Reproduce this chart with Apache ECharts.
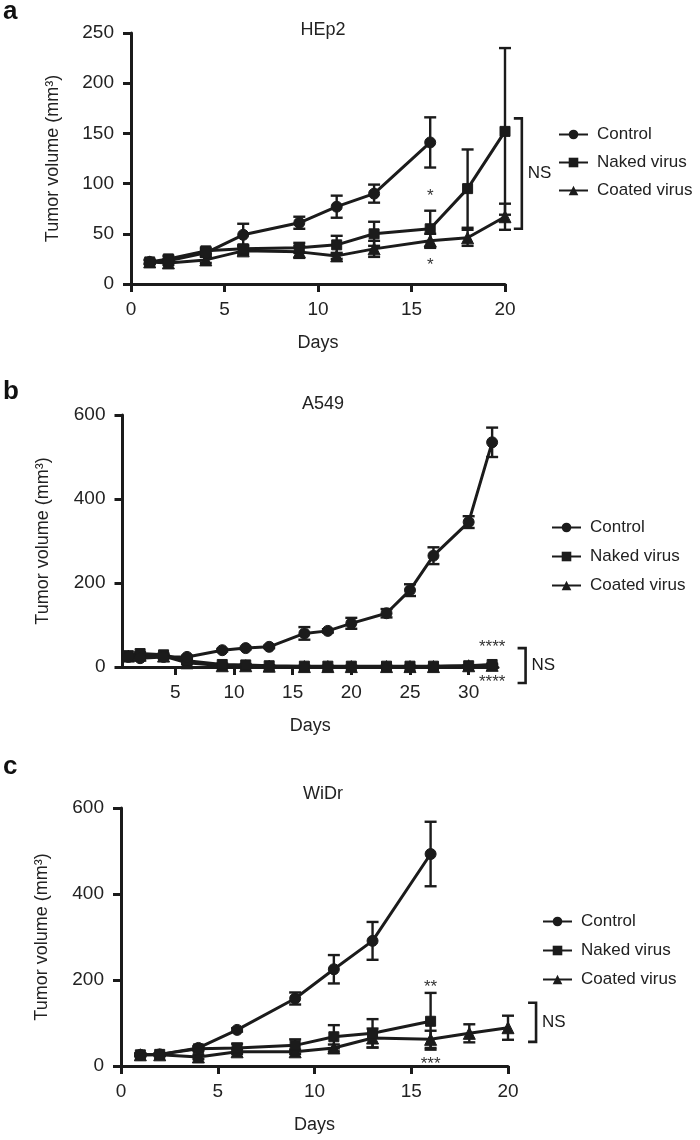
<!DOCTYPE html>
<html>
<head>
<meta charset="utf-8">
<script src="https://cdn.jsdelivr.net/npm/echarts@6/dist/echarts.min.js"></script>
<style>
html,body{margin:0;padding:0;background:#fff;}
#c{width:700px;height:1140px;}
</style>
</head>
<body>
<div id="c"></div>
<script>
// ---------- DATA ----------
const seriesNames = ['Control', 'Naked virus', 'Coated virus'];
const panelTitles = ['HEp2', 'A549', 'WiDr'];
const panelLetters = ['a', 'b', 'c'];
const yAxisTitle = 'Tumor volume (mm³)';
const xAxisTitle = 'Days';

// Panel a (HEp2)
const daysA_control = [1, 2, 4, 6, 9, 11, 13, 16];
const controlA = [22, 23, 31, 49, 61, 77, 90, 141];
const controlA_err = [2, 2, 3, 11, 6, 11, 9, 25];
const daysA_naked = [1, 2, 4, 6, 9, 11, 13, 16, 18, 20];
const nakedA = [22, 25, 33, 35, 36, 39, 50, 55, 95, 152];
const nakedA_err = [2, 3, 3, 4, 5, 9, 12, 18, 39, 83];
const daysA_coated = [1, 2, 4, 6, 9, 11, 13, 16, 18, 20];
const coatedA = [22, 21, 24, 33, 32, 28, 35, 43, 46, 67];
const coatedA_err = [2, 2, 3, 4, 6, 3, 8, 7, 8, 13];
const xTicksA = [0, 5, 10, 15, 20];

// Panel b (A549)
const daysB = [1, 2, 4, 6, 9, 11, 13, 16, 18, 20, 23, 25, 27, 30, 32];
const controlB = [24, 21, 24, 24, 40, 45, 48, 80, 86, 104, 128, 183, 265, 345, 535];
const controlB_err = [3, 3, 3, 3, 3, 3, 3, 15, 4, 13, 10, 14, 20, 14, 35];
const nakedB = [27, 32, 29, 15, 6, 5, 3, 2, 2, 2, 2, 2, 2, 3, 6];
const nakedB_err = [3, 3, 3, 3, 2, 2, 1, 1, 1, 1, 1, 1, 1, 1, 2];
const coatedB = [26, 28, 26, 10, 3, 3, 2, 1, 1, 1, 1, 1, 1, 3, 4];
const coatedB_err = [3, 3, 3, 3, 1, 1, 1, 1, 1, 1, 1, 1, 1, 1, 2];
const xTicksB = [5, 10, 15, 20, 25, 30];

// Panel c (WiDr)
const daysC_control = [1, 2, 4, 6, 9, 11, 13, 16];
const controlC = [26, 27, 42, 84, 157, 225, 291, 493];
const controlC_err = [3, 3, 4, 4, 14, 33, 44, 75];
const daysC_naked = [1, 2, 4, 6, 9, 11, 13, 16];
const nakedC = [26, 27, 40, 42, 48, 68, 76, 104];
const nakedC_err = [3, 3, 5, 10, 14, 27, 33, 66];
const daysC_coated = [1, 2, 4, 6, 9, 11, 13, 16, 18, 20];
const coatedC = [26, 26, 21, 33, 33, 42, 65, 62, 76, 89];
const coatedC_err = [3, 3, 5, 5, 5, 8, 22, 20, 21, 28];
const xTicksC = [0, 5, 10, 15, 20];

// Significance annotations: [day, value], label
const starsA = [[16, 87], [16, 19]];
const starsA_text = ['*', '*'];
const starsB = [[32, 48], [32, -37]];
const starsB_text = ['****', '****'];
const starsC = [[16, 183], [16, 4]];
const starsC_text = ['**', '***'];
// NS brackets: [day, top value, bottom value]
const bracketA = [[20.9, 165, 55]];
const bracketB = [[34.85, 45, -38]];
const bracketC = [[21.45, 147, 56]];
const bracketLabel = 'NS';

// ---------- BUILD ----------
const INK = '#1b1b1b';
const FONT = '"Liberation Sans", Arial, Helvetica, sans-serif';
const symbols = ['circle', 'rect', 'triangle'];
const symSizes = [11, 10, 12];

function pairs(xs, ys) { return xs.map((x, i) => [x, ys[i]]); }
function errs(xs, ys, es) { return xs.map((x, i) => [x, ys[i] - es[i], ys[i] + es[i]]); }

function errSeries(data, gi) {
  return {
    type: 'custom', xAxisIndex: gi, yAxisIndex: gi, clip: false, z: 3,
    silent: true,
    renderItem: function (params, api) {
      const x = api.value(0), lo = api.value(1), hi = api.value(2);
      const p1 = api.coord([x, hi]), p2 = api.coord([x, lo]);
      const w = 6;
      const st = { stroke: INK, lineWidth: 2.4 };
      return { type: 'group', children: [
        { type: 'line', shape: { x1: p1[0], y1: p1[1], x2: p2[0], y2: p2[1] }, style: st },
        { type: 'line', shape: { x1: p1[0] - w, y1: p1[1], x2: p1[0] + w, y2: p1[1] }, style: st },
        { type: 'line', shape: { x1: p2[0] - w, y1: p2[1], x2: p2[0] + w, y2: p2[1] }, style: st }
      ]};
    },
    encode: { x: 0, y: [1, 2] },
    data: data
  };
}

function lineSeries(name, k, data, gi) {
  return {
    name: name, type: 'line', xAxisIndex: gi, yAxisIndex: gi,
    symbol: symbols[k], symbolSize: symSizes[k], showAllSymbol: true,
    lineStyle: { color: INK, width: 3 },
    itemStyle: { color: INK, borderColor: INK },
    emphasis: { disabled: true },
    z: 4, clip: false, animation: false,
    data: data
  };
}

function starSeries(data, texts, gi) {
  return {
    type: 'custom', xAxisIndex: gi, yAxisIndex: gi, clip: false, silent: true, z: 5,
    renderItem: function (params, api) {
      const p = api.coord([api.value(0), api.value(1)]);
      return { type: 'text', style: { text: texts[params.dataIndex], x: p[0], y: p[1],
        fill: '#333', font: '17px ' + FONT, align: 'center', verticalAlign: 'middle' } };
    },
    data: data
  };
}

function bracketSeries(data, gi) {
  return {
    type: 'custom', xAxisIndex: gi, yAxisIndex: gi, clip: false, silent: true, z: 5,
    renderItem: function (params, api) {
      const x = api.value(0);
      const pt = api.coord([x, api.value(1)]), pb = api.coord([x, api.value(2)]);
      const t = 8;
      return { type: 'group', children: [
        { type: 'polyline', shape: { points: [[pt[0] - t, pt[1]], [pt[0], pt[1]], [pb[0], pb[1]], [pb[0] - t, pb[1]]] },
          style: { stroke: INK, lineWidth: 2.6, fill: null } },
        { type: 'text', style: { text: bracketLabel, x: pt[0] + 6, y: (pt[1] + pb[1]) / 2,
          fill: INK, font: '17px ' + FONT, align: 'left', verticalAlign: 'middle' } }
      ]};
    },
    data: data
  };
}

const grids = [
  { left: 131, top: 33, width: 374, height: 251 },
  { left: 122.5, top: 415, width: 375.5, height: 252 },
  { left: 121, top: 808, width: 387, height: 258 }
];

const axisLineStyle = { show: true, lineStyle: { color: INK, width: 3 } };
const axisTickStyle = { show: true, inside: false, length: 8, lineStyle: { color: INK, width: 3 } };
const axisLabelStyle = { color: '#222', fontSize: 19, fontFamily: FONT, margin: 17 };

function xAxis(gi, min, max, ticks, interval) {
  const ax = {
    type: 'value', gridIndex: gi, min: min, max: max,
    axisLine: Object.assign({}, axisLineStyle, { onZero: false }),
    axisTick: Object.assign({}, axisTickStyle),
    axisLabel: Object.assign({}, axisLabelStyle, { margin: 16 }),
    splitLine: { show: false },
    name: xAxisTitle, nameLocation: 'middle', nameGap: 50,
    nameTextStyle: { color: '#222', fontSize: 18, fontFamily: FONT }
  };
  if (interval) { ax.interval = interval; }
  else {
    ax.axisTick.customValues = ticks;
    ax.axisLabel.customValues = ticks;
  }
  return ax;
}
function yAxis(gi, max, interval, gap) {
  return {
    type: 'value', gridIndex: gi, min: 0, max: max, interval: interval,
    axisLine: axisLineStyle,
    axisTick: axisTickStyle,
    axisLabel: axisLabelStyle,
    splitLine: { show: false },
    name: yAxisTitle, nameLocation: 'middle', nameGap: gap, nameRotate: 90,
    nameTextStyle: { color: '#222', fontSize: 18, fontFamily: FONT }
  };
}

const legendCommon = {
  orient: 'vertical', itemWidth: 29, itemHeight: 12,
  textStyle: { color: '#222', fontSize: 17, fontFamily: FONT, padding: [0, 0, 0, 4] },
  data: seriesNames, selectedMode: false
};

const option = {
  animation: false,
  backgroundColor: '#fff',
  textStyle: { fontFamily: FONT },
  title: panelTitles.map((t, i) => ({
    text: t, left: 318, top: [16, 390, 780][i], textAlign: 'center',
    textStyle: { color: '#222', fontSize: 18, fontWeight: 'normal', fontFamily: FONT }
  })),
  graphic: panelLetters.map((t, i) => ({
    type: 'text', left: 3, top: [-1, 379, 754][i],
    style: { text: t, font: 'bold 26px ' + FONT, fill: '#111' }
  })),
  legend: [
    Object.assign({}, legendCommon, { left: 553, top: 121, itemGap: 11 }),
    Object.assign({}, legendCommon, { left: 546, top: 514, itemGap: 12 }),
    Object.assign({}, legendCommon, { left: 537, top: 908, itemGap: 12 })
  ],
  grid: grids,
  xAxis: [
    xAxis(0, 0, 20, xTicksA, 5),
    xAxis(1, 0.5, 32.5, xTicksB, null),
    xAxis(2, 0, 20, xTicksC, 5)
  ],
  yAxis: [
    yAxis(0, 250, 50, 69),
    yAxis(1, 600, 200, 70),
    yAxis(2, 600, 200, 70)
  ],
  series: [
    errSeries(errs(daysA_control, controlA, controlA_err), 0),
    errSeries(errs(daysA_naked, nakedA, nakedA_err), 0),
    errSeries(errs(daysA_coated, coatedA, coatedA_err), 0),
    lineSeries(seriesNames[2], 2, pairs(daysA_coated, coatedA), 0),
    lineSeries(seriesNames[1], 1, pairs(daysA_naked, nakedA), 0),
    lineSeries(seriesNames[0], 0, pairs(daysA_control, controlA), 0),
    starSeries(starsA, starsA_text, 0),
    bracketSeries(bracketA, 0),

    errSeries(errs(daysB, controlB, controlB_err), 1),
    errSeries(errs(daysB, nakedB, nakedB_err), 1),
    errSeries(errs(daysB, coatedB, coatedB_err), 1),
    lineSeries(seriesNames[2], 2, pairs(daysB, coatedB), 1),
    lineSeries(seriesNames[1], 1, pairs(daysB, nakedB), 1),
    lineSeries(seriesNames[0], 0, pairs(daysB, controlB), 1),
    starSeries(starsB, starsB_text, 1),
    bracketSeries(bracketB, 1),

    errSeries(errs(daysC_control, controlC, controlC_err), 2),
    errSeries(errs(daysC_naked, nakedC, nakedC_err), 2),
    errSeries(errs(daysC_coated, coatedC, coatedC_err), 2),
    lineSeries(seriesNames[2], 2, pairs(daysC_coated, coatedC), 2),
    lineSeries(seriesNames[1], 1, pairs(daysC_naked, nakedC), 2),
    lineSeries(seriesNames[0], 0, pairs(daysC_control, controlC), 2),
    starSeries(starsC, starsC_text, 2),
    bracketSeries(bracketC, 2)
  ]
};

const chart = echarts.init(document.getElementById('c'), null, { renderer: 'canvas' });
chart.setOption(option);
</script>
</body>
</html>
